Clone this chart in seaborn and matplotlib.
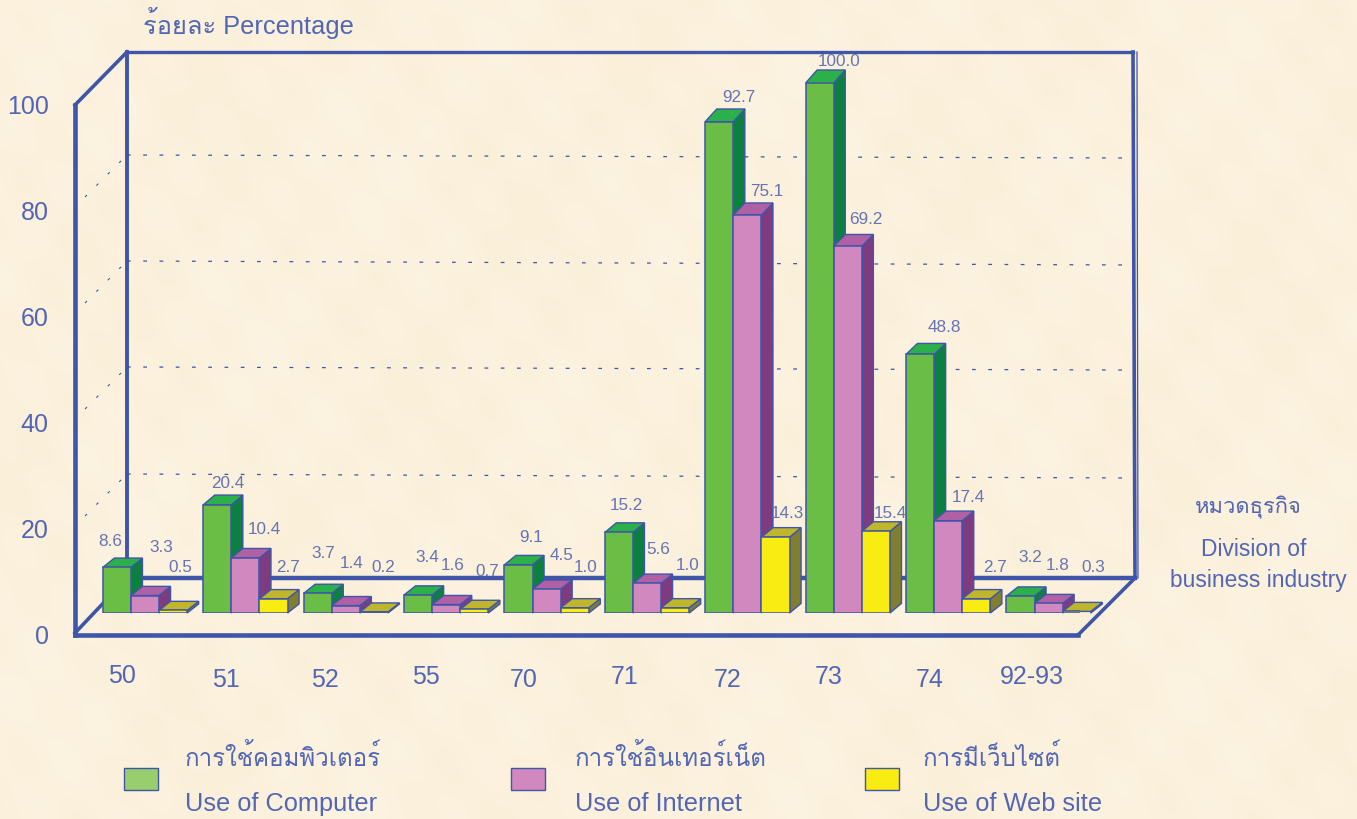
import numpy as np
import pandas as pd
import matplotlib
matplotlib.use("Agg")
import matplotlib.pyplot as plt
from matplotlib import font_manager, ft2font
from matplotlib.patches import Polygon, Rectangle
import seaborn as sns

divisions = ["50", "51", "52", "55", "70", "71", "72", "73", "74", "92-93"]
computer = [8.6, 20.4, 3.7, 3.4, 9.1, 15.2, 92.7, 100.0, 48.8, 3.2]
internet = [3.3, 10.4, 1.4, 1.6, 4.5, 5.6, 75.1, 69.2, 17.4, 1.8]
website = [0.5, 2.7, 0.2, 0.7, 1.0, 1.0, 14.3, 15.4, 2.7, 0.3]
series_names = ["Use of Computer", "Use of Internet", "Use of Web site"]
series_thai = ["การใช้คอมพิวเตอร์", "การใช้อินเทอร์เน็ต", "การมีเว็บไซต์"]
y_ticks = [0, 20, 40, 60, 80, 100]

# layout, picture pixels
label_xy = [
    [(110, 542), (228, 483), (323, 554), (427, 558), (531, 537), (626, 506), (739, 97), (839, 62), (944, 327), (1030, 557)],
    [(161, 548), (264, 530), (352, 564), (453, 566), (561, 555), (658, 550), (767, 191), (866, 220), (968, 498), (1058, 566)],
    [(180, 568), (288, 568), (383, 568), (487, 571), (586, 568), (688, 566), (787, 513), (890, 513), (995, 568), (1093, 568)],
]
div_xy = [(122, 676), (226, 680), (325, 680), (426, 677), (524, 680), (625, 677), (728, 680), (829, 677), (930, 680), (1032, 677)]

BLUE = "#3F55A8"
TEXT = "#5266B4"
LABEL = "#6573B4"
FACE = ["#6ABD45", "#D188BE", "#F9EC13"]
TOP = ["#2BB04A", "#B060A5", "#BFB62C"]
SIDE = ["#0B8040", "#7F3B80", "#827E30"]
SWATCH = ["#98CE6E", "#D188BE", "#F9EC13"]
W, H = 1357, 819
DX = 11.5


def thai_family():
    # none of the usual families may have thai, so look for one
    for f in font_manager.fontManager.ttflist:
        try:
            if 0x0E01 in ft2font.FT2Font(f.fname).get_charmap():
                return [f.name]
        except Exception:
            pass
    return []


sns.set_theme(style="white")
plt.rcParams["font.family"] = ["Liberation Sans"] + thai_family() + ["DejaVu Sans"]

fig = plt.figure(figsize=(W / 100, H / 100), dpi=100)

# paper background and the back of the box, in pixels
bg = fig.add_axes([0, 0, 1, 1])
bg.set_xlim(0, W)
bg.set_ylim(H, 0)
bg.axis("off")
yy, xx = np.mgrid[0:H:2, 0:W:2]
mottle = (np.sin(xx / 61 + yy / 97) + np.sin(xx / 37 - yy / 53 + 1) + np.sin(xx / 17 + yy / 23 + 2)
          + np.sin(xx / 11 - yy / 13 + 4)) / 4
paper = np.dstack([251 + 0.5 * mottle, 241 + 2 * mottle, 221 + 5 * mottle]) / 255
bg.imshow(paper, extent=(0, W, H, 0), aspect="auto", zorder=0)

for (x0, y0, x1, y1, lw) in [
    (127, 52, 1133, 52, 2.4), (127, 52, 127, 578, 2.8), (127, 578, 1135, 578, 3.2),
    (1133, 52, 1135, 578, 2.6), (1137, 52, 1138, 578, 0.9),
    (75, 105, 127, 52, 2.6), (75, 633, 127, 578, 2.6), (1078, 635, 1135, 578, 2.6),
]:
    bg.plot([x0, x1], [y0, y1], color=BLUE, lw=lw, solid_capstyle="projecting", zorder=1)

for y_l, y_r in [(155, 158), (261, 265), (367, 370), (474, 478)]:
    bg.plot([127, 1133], [y_l, y_r], color=BLUE, lw=0.9, dashes=(3, 10), zorder=1)
    bg.plot([85, 123], [y_l + 42, y_l + 4], color=BLUE, lw=0.8, dashes=(2.5, 12), zorder=1)

bg.text(143, 23, "ร้อยละ Percentage", color=TEXT, fontsize=18.3, va="center")
for name, (x, y) in zip(divisions, div_xy):
    bg.text(x, y, name, color=TEXT, fontsize=18, ha="center", va="center")
bg.text(1248, 507, "หมวดธุรกิจ", color=TEXT, fontsize=15.8, ha="center", va="center")
bg.text(1254, 549, "Division of", color=TEXT, fontsize=16.4, ha="center", va="center")
bg.text(1258, 580, "business industry", color=TEXT, fontsize=16.4, ha="center", va="center")

for i, (x_box, x_txt) in enumerate([(124, 185), (511, 575), (865, 923)]):
    bg.add_patch(Rectangle((x_box, 768), 34, 22, fc=SWATCH[i], ec=BLUE, lw=1, zorder=2))
    bg.text(x_txt, 758, series_thai[i], color=TEXT, fontsize=17.3, va="center")
    bg.text(x_txt, 804, series_names[i], color=TEXT, fontsize=18.3, va="center")

# front axis with the tick numbers
front = fig.add_axes([75 / W, 1 - 635 / H, 1003 / W, 530 / H], facecolor="none")
front.set_ylim(0, 100)
front.set_yticks(y_ticks)
front.set_xticks([])
front.tick_params(axis="y", length=0, pad=19, labelsize=18, labelcolor=TEXT)
sns.despine(ax=front, top=True, right=True)
for side in ["left", "bottom"]:
    front.spines[side].set_color(BLUE)
    front.spines[side].set_linewidth(3.3)

# bars
df = pd.DataFrame({
    "division": divisions * 3,
    "series": np.repeat(series_names, len(divisions)),
    "percent": computer + internet + website,
})
ax = fig.add_axes([75 / W, 1 - 613 / H, 1005 / W, 530 / H], facecolor="none")
sns.barplot(data=df, x="division", y="percent", hue="series", order=divisions, hue_order=series_names,
            palette=FACE, saturation=1, width=0.84, gap=0, legend=False, ax=ax,
            edgecolor=BLUE, linewidth=1.1)
ax.set_xlim((75 - 145) / 100.4, (1080 - 145) / 100.4)
ax.set_ylim(0, 100)
ax.axis("off")

px_x = 100.4
px_y = 530 / 100
for c, cont in enumerate(ax.containers):
    for g, bar in enumerate(cont):
        z = 10 + g * 5 + c
        x0, x1 = bar.get_x(), bar.get_x() + bar.get_width()
        top = bar.get_height()
        # taller bars show a slightly deeper top
        dx, dy = DX / px_x, (9 + 0.04 * top) / px_y
        bar.set_zorder(z + 0.5)
        ax.add_patch(Polygon([(x1, 0), (x1 + dx, dy), (x1 + dx, top + dy), (x1, top)], fc=SIDE[c], ec=BLUE,
                             lw=1.0, zorder=z, clip_on=False))
        ax.add_patch(Polygon([(x0, top), (x0 + dx, top + dy), (x1 + dx, top + dy), (x1, top)], fc=TOP[c], ec=BLUE,
                             lw=1.0, zorder=z, clip_on=False))

for c, values in enumerate([computer, internet, website]):
    for g, v in enumerate(values):
        x, y = label_xy[c][g]
        ax.text((x - 145) / px_x, (613 - y) / px_y, "%.1f" % v, color=LABEL, fontsize=12.3, ha="center",
                va="center", zorder=60, clip_on=False)

fig.savefig("out.png", dpi=100)
